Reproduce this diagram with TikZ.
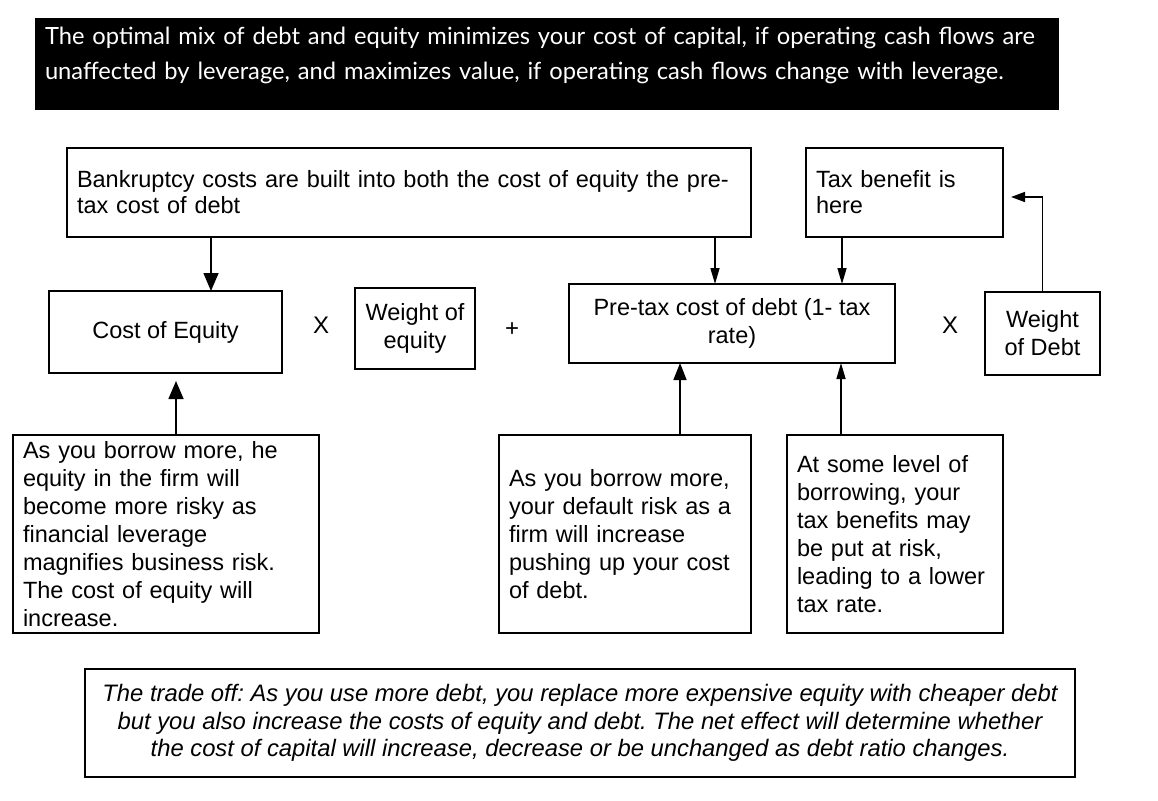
\documentclass[tikz,border=0pt]{standalone}
\usepackage{fontspec}
\setmainfont{Liberation Sans}
\newfontfamily\bannerfont{Lato}
\usetikzlibrary{arrows.meta}
\frenchspacing
\tikzset{
  box/.style={draw=black, line width=1.6pt, inner ysep=0pt, outer sep=0pt, font=\fontsize{23.5}{28}\selectfont},
  leftbox/.style={box, align=left, inner xsep=10pt, text width=#1-20pt, minimum width=#1},
  ctrbox/.style={box, align=center, inner xsep=0pt},
  bigarr/.style={line width=1.6pt, -{Triangle[width=15pt,length=18pt]}},
  smallarr/.style={line width=1.6pt, -{Triangle[width=9pt,length=16pt]}},
  midarr/.style={line width=1.6pt, -{Triangle[width=13pt,length=17pt]}},
  opsym/.style={font=\fontsize{24}{26}\selectfont, inner sep=0pt}
}
\begin{document}
\begin{tikzpicture}[x=1pt,y=-1pt]
\useasboundingbox (0,0) rectangle (1158,800);
% banner
\node[fill=black, minimum width=1024pt, minimum height=92pt, inner sep=0pt, text width=1004pt, align=left,
      text=white, font=\bannerfont\fontsize{23.7}{35}\selectfont] (banner) at (547,64)
 {The optimal mix of debt and equity minimizes your cost of capital, if operating cash flows are\\
  unaffected by leverage, and maximizes value, if operating cash flows change with leverage.\rule[-21pt]{0pt}{21pt}};
% top boxes
\node[leftbox=684pt, minimum height=89pt, font=\fontsize{23.5}{26}\selectfont] (bank) at (409,192.5)
 {Bankruptcy costs are built into both the cost of equity the pre-\\tax cost of debt};
\node[leftbox=197pt, minimum height=89pt, font=\fontsize{23.5}{26}\selectfont] (tax) at (904.5,192.5)
 {Tax benefit is\\here};
% middle row
\node[ctrbox, minimum width=233pt, minimum height=82pt] (coe) at (165.5,332) {Cost of Equity};
\node[opsym] (x1) at (321,325) {X};
\node[ctrbox, minimum width=120pt, minimum height=81pt] (woe) at (415,328.5) {Weight of\\equity};
\node[opsym, font=\fontsize{24}{26}\selectfont] (plus) at (512,330) {+};
\node[ctrbox, minimum width=326pt, minimum height=79pt] (pre) at (732,323.5) {Pre-tax cost of debt (1- tax\\rate)};
\node[opsym] (x2) at (950,325) {X};
\node[ctrbox, minimum width=115pt, minimum height=83pt] (wod) at (1042.5,333.5) {Weight\\of Debt};
% bottom boxes
\node[leftbox=306pt, minimum height=198pt] (lb) at (166,534)
 {As you borrow more, he\\equity in the firm will\\become more risky as\\financial leverage\\magnifies business risk.\\The cost of equity will\\increase.};
\node[leftbox=252pt, minimum height=198pt] (mb) at (625,534)
 {As you borrow more,\\your default risk as a\\firm will increase\\pushing up your cost\\of debt.};
\node[leftbox=216pt, minimum height=198pt] (rb) at (895,534)
 {At some level of\\borrowing, your\\tax benefits may\\be put at risk,\\leading to a lower\\tax rate.};
% trade-off
\node[box, minimum width=990pt, minimum height=108pt, align=center, inner xsep=0pt,
      font=\itshape\fontsize{23.8}{27.5}\selectfont] (trade) at (580,723)
 {The trade off: As you use more debt, you replace more expensive equity with cheaper debt\\
  but you also increase the costs of equity and debt. The net effect will determine whether\\
  the cost of capital will increase, decrease or be unchanged as debt ratio changes.};
% connectors
\draw[bigarr] (bank.south -| 211,0) -- (coe.north -| 211,0);
\draw[smallarr] (bank.south -| 715,0) -- (pre.north -| 715,0);
\draw[smallarr] (tax.south -| 842,0) -- (pre.north -| 842,0);
\draw[bigarr, shorten >=8pt] (lb.north -| 176,0) -- (coe.south -| 176,0);
\draw[midarr] (mb.north -| 680,0) -- (pre.south -| 680,0);
\draw[smallarr] (rb.north -| 841,0) -- (pre.south -| 841,0);
\draw[line width=1.6pt, -{Triangle[width=10pt,length=14pt]}] (wod.north) |- ([shift={(8pt,-4.5pt)}]tax.east);
\end{tikzpicture}
\end{document}
